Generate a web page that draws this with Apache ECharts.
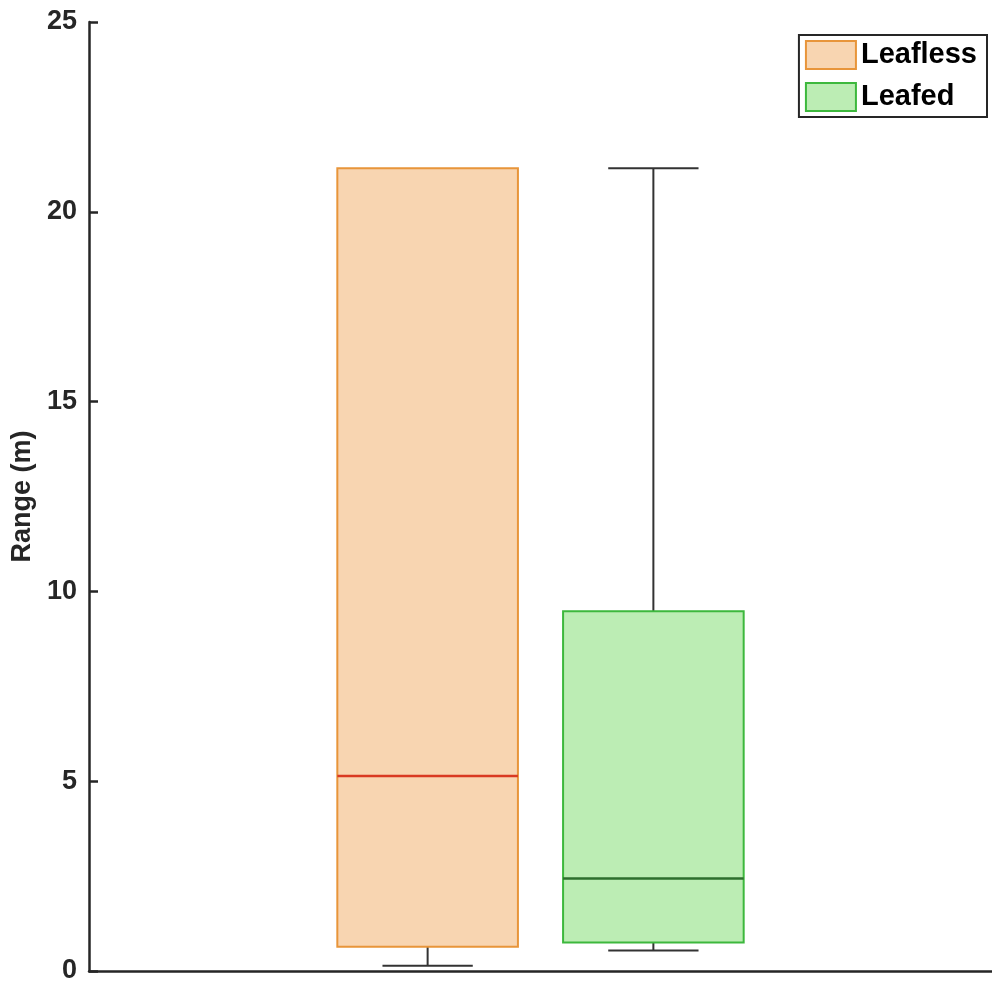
<!DOCTYPE html>
<html>
<head>
<meta charset="utf-8">
<title>Range (m)</title>
<script src="https://cdn.jsdelivr.net/npm/echarts@6/dist/echarts.min.js"></script>
<style>
  html, body { margin: 0; padding: 0; background: #ffffff; }
  #chart { width: 992px; height: 985px; }
</style>
</head>
<body>
<div id="chart"></div>
<script>
// Box statistics: [min, Q1, median, Q3, max]
const groupNames = ['Leafless', 'Leafed'];
const leaflessStats = [0.14, 0.64, 5.14, 21.15, 21.15];
const leafedStats = [0.54, 0.75, 2.44, 9.48, 21.15];
const yTicks = { min: 0, max: 25, step: 5 };

const FONT = '"Liberation Sans", Arial, sans-serif';
const INK = '#262626';

const styles = {
  Leafless: { fill: '#f8d5b1', edge: '#e8953a', median: '#d93a22', offset: -0.125 },
  Leafed:   { fill: '#bcedb4', edge: '#3db83d', median: '#2e6e2e', offset: 0.125 }
};

function makeRender(name) {
  const st = styles[name];
  return function (params, api) {
    const band = api.size([1, 0])[0];
    const cx = api.coord([api.value(0), 0])[0] + st.offset * band;
    const boxW = band * 0.2;
    const capW = boxW * 0.5;
    const y = i => api.coord([api.value(0), api.value(i)])[1];
    const yMin = y(1), yQ1 = y(2), yMed = y(3), yQ3 = y(4), yMax = y(5);
    const whisker = { stroke: '#333333', lineWidth: 2 };
    const children = [];
    // a whisker is only drawn when it extends beyond the box
    if (Math.abs(yMin - yQ1) > 0.5) {
      children.push(
        { type: 'line', shape: { x1: cx, y1: yQ1, x2: cx, y2: yMin }, style: whisker },
        { type: 'line', shape: { x1: cx - capW / 2, y1: yMin, x2: cx + capW / 2, y2: yMin }, style: whisker }
      );
    }
    if (Math.abs(yMax - yQ3) > 0.5) {
      children.push(
        { type: 'line', shape: { x1: cx, y1: yQ3, x2: cx, y2: yMax }, style: whisker },
        { type: 'line', shape: { x1: cx - capW / 2, y1: yMax, x2: cx + capW / 2, y2: yMax }, style: whisker }
      );
    }
    children.push(
      { type: 'rect', shape: { x: cx - boxW / 2, y: yQ3, width: boxW, height: yQ1 - yQ3 },
        style: { fill: st.fill, stroke: st.edge, lineWidth: 2 } },
      { type: 'line', shape: { x1: cx - boxW / 2, y1: yMed, x2: cx + boxW / 2, y2: yMed },
        style: { stroke: st.median, lineWidth: 2.5 } }
    );
    return { type: 'group', children: children };
  };
}

const seriesStats = { Leafless: leaflessStats, Leafed: leafedStats };

const chart = echarts.init(document.getElementById('chart'), null, { renderer: 'canvas' });
chart.setOption({
  animation: false,
  backgroundColor: '#ffffff',
  grid: { left: 89, right: 0, top: 22, bottom: 14, containLabel: false },
  legend: {
    orient: 'vertical',
    right: 5,
    top: 35,
    padding: [5, 10, 5, 6],
    itemWidth: 50,
    itemHeight: 28,
    itemGap: 12,
    borderColor: INK,
    borderWidth: 2,
    backgroundColor: '#ffffff',
    icon: 'rect',
    textStyle: { fontFamily: FONT, fontWeight: 'bold', fontSize: 29, color: '#000000' },
    data: groupNames.map(n => ({
      name: n,
      itemStyle: { color: styles[n].fill, borderColor: styles[n].edge, borderWidth: 2 }
    }))
  },
  xAxis: {
    type: 'category',
    data: [''],
    boundaryGap: true,
    axisLine: { show: true, lineStyle: { color: INK, width: 2.5 } },
    axisTick: { show: false },
    axisLabel: { show: false },
    splitLine: { show: false }
  },
  yAxis: {
    type: 'value',
    min: yTicks.min,
    max: yTicks.max,
    interval: yTicks.step,
    name: 'Range (m)',
    nameLocation: 'middle',
    nameGap: 46,
    nameTextStyle: { fontFamily: FONT, fontWeight: 'bold', fontSize: 27, color: INK },
    axisLine: { show: true, lineStyle: { color: INK, width: 2.5 } },
    axisTick: { show: true, inside: true, length: 9, lineStyle: { color: INK, width: 2.5 } },
    axisLabel: { fontFamily: FONT, fontWeight: 'bold', fontSize: 27, color: INK, margin: 12 },
    splitLine: { show: false }
  },
  series: groupNames.map(n => ({
    name: n,
    type: 'custom',
    renderItem: makeRender(n),
    itemStyle: { color: styles[n].fill, borderColor: styles[n].edge },
    encode: { x: 0, y: [1, 2, 3, 4, 5] },
    data: [[0].concat(seriesStats[n])]
  }))
});
</script>
</body>
</html>
